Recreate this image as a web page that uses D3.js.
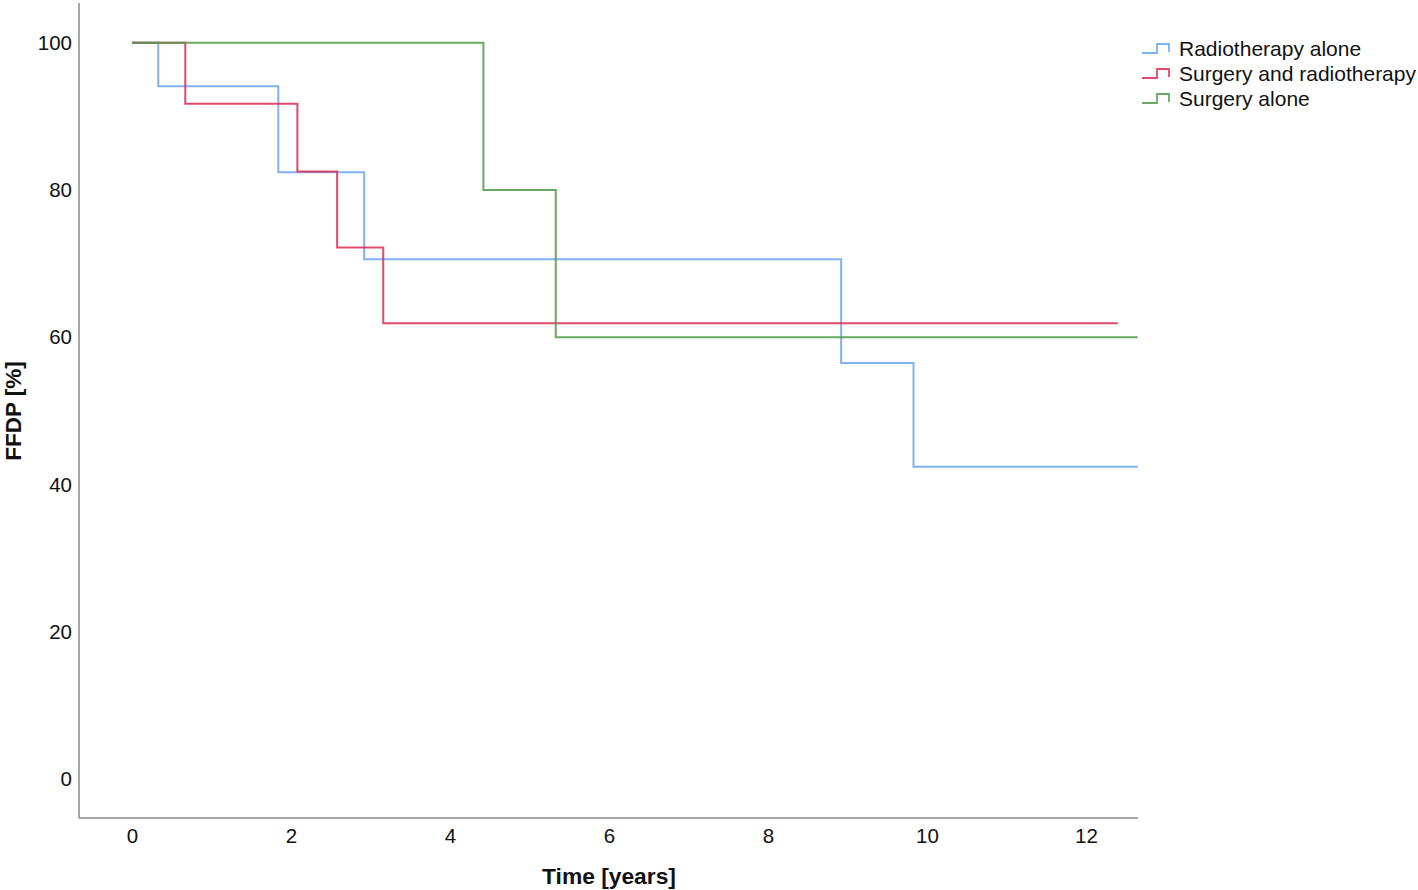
<!DOCTYPE html>
<html><head><meta charset="utf-8">
<script src="https://cdn.jsdelivr.net/npm/d3@7"></script>
<style>
html,body{margin:0;padding:0;background:#fff;}
svg{display:block;font-family:"Liberation Sans",Arial,Helvetica,sans-serif;}
</style></head>
<body>
<svg id="chart" width="1418" height="890"></svg>
<script>
// Kaplan-Meier step data: time (years) and FFDP (%)
const seriesNames = ["Radiotherapy alone", "Surgery and radiotherapy", "Surgery alone"];
const radioTimes = [0, 0.33, 1.84, 2.92, 8.92, 9.83, 12.65];
const radioValues = [100, 94.1, 82.4, 70.6, 56.5, 42.4, 42.4];
const surgRadioTimes = [0, 0.67, 2.08, 2.58, 3.16, 12.40];
const surgRadioValues = [100, 91.7, 82.5, 72.2, 61.9, 61.9];
const surgTimes = [0, 4.42, 5.33, 12.65];
const surgValues = [100, 80, 60, 60];
const xTicks = [0, 2, 4, 6, 8, 10, 12];
const yTicks = [0, 20, 40, 60, 80, 100];
const colors = ["#6aa3ef", "#dc2a50", "#4f9a45"];

const svg = d3.select("#chart");
const x = d3.scaleLinear().domain([-0.667, 12.654]).range([79, 1138]);
const y = d3.scaleLinear().domain([-5.3, 105.4]).range([818, 3]);

// axes lines
const axisColor = "#8a8a8a";
svg.append("line").attr("x1", 79).attr("x2", 79).attr("y1", y(105.4)).attr("y2", y(-5.3))
  .attr("stroke", axisColor).attr("stroke-width", 1.5);
svg.append("line").attr("x1", 79).attr("x2", x(12.654)).attr("y1", y(-5.3)).attr("y2", y(-5.3))
  .attr("stroke", axisColor).attr("stroke-width", 1.5);

// x tick labels
const xAxis = d3.axisBottom(x).tickValues(xTicks).tickSize(0).tickPadding(10).tickFormat(d3.format("d"));
const gx = svg.append("g").attr("transform", `translate(0,${y(-5.3)})`).call(xAxis);
gx.select(".domain").remove();
gx.selectAll("text").attr("font-size", 20.5).attr("fill", "#111").attr("font-family", "Liberation Sans, Arial, sans-serif");

const yAxis = d3.axisLeft(y).tickValues(yTicks).tickSize(0).tickPadding(7).tickFormat(d3.format("d"));
const gy = svg.append("g").attr("transform", `translate(79,0)`).call(yAxis);
gy.select(".domain").remove();
gy.selectAll("text").attr("font-size", 20.5).attr("fill", "#111").attr("font-family", "Liberation Sans, Arial, sans-serif");

// axis titles
svg.append("text").attr("x", 609).attr("y", 884).attr("text-anchor", "middle")
  .attr("font-size", 22.8).attr("font-weight", "bold").attr("fill", "#111").text("Time [years]");
svg.append("text").attr("transform", "translate(21,411) rotate(-90)").attr("text-anchor", "middle")
  .attr("font-size", 22.5).attr("font-weight", "bold").attr("fill", "#111").text("FFDP [%]");

// curves
const line = d3.line().x(d => x(d[0])).y(d => y(d[1])).curve(d3.curveStepAfter);
const data = [
  d3.zip(radioTimes, radioValues),
  d3.zip(surgRadioTimes, surgRadioValues),
  d3.zip(surgTimes, surgValues)
];
data.forEach((pts, i) => {
  svg.append("path").datum(pts).attr("d", line).attr("fill", "none")
    .attr("stroke", colors[i]).attr("stroke-width", 2).attr("stroke-opacity", 0.85);
});

// legend
const lg = svg.append("g");
seriesNames.forEach((name, i) => {
  const cy = 48 + i * 25;
  lg.append("path")
    .attr("d", `M1142,${cy + 5} H1157 V${cy - 4} H1169 V${cy + 4}`)
    .attr("fill", "none").attr("stroke", colors[i]).attr("stroke-width", 1.8).attr("stroke-opacity", 0.85);
  lg.append("text").attr("x", 1179).attr("y", cy + 7.5).attr("font-size", 21).attr("fill", "#111").text(name);
});
</script>
</body></html>
